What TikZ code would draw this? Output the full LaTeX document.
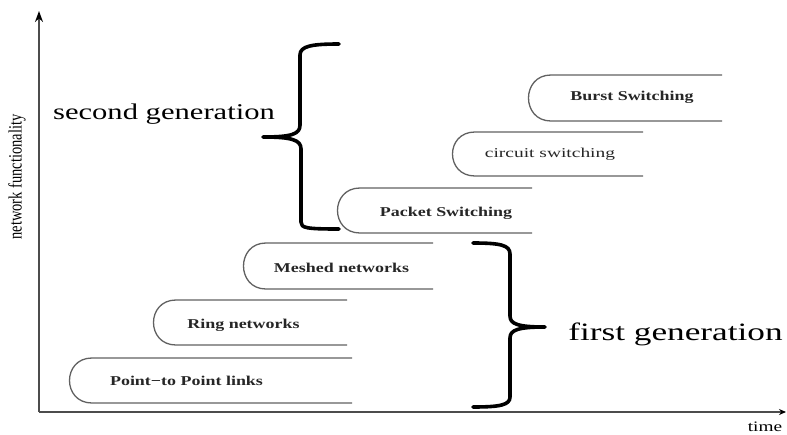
\documentclass[tikz,border=0pt]{standalone}
\usepackage{fontspec}
\setmainfont{Liberation Serif}
\usetikzlibrary{arrows.meta}
\tikzset{
  axis/.style={draw=black!70, line width=1.4pt},
  stage/.style={draw=black!62, line width=1.3pt},
  brace/.style={draw=black, line width=3.6pt, line cap=round, line join=round},
  lbl/.style={font=\fontsize{13.5}{15}\selectfont\bfseries, text=black!85, xscale=1.33, inner sep=0pt},
  gen/.style={text=black, inner sep=0pt, anchor=base}
}
\begin{document}
\begin{tikzpicture}[x=1pt,y=-1pt]
\useasboundingbox (0,0) rectangle (787,434);
% axes
\coordinate (o) at (39,412);
\coordinate (ytop) at (39,11);
\coordinate (xend) at (786,412);
\draw[axis,-{Stealth[length=11pt,width=8pt,color=black]}] (o) -- (ytop);
\draw[axis,-{Stealth[length=7pt,width=6pt,color=black]}] (o) -- (xend);
\node[inner sep=0pt] (ylab) at (17,177) {\rotatebox{90}{\scalebox{1}[1.3]{\fontsize{14.5}{16}\selectfont network functionality}}};
\node[inner sep=0pt, font=\fontsize{14.5}{16}\selectfont, xscale=1.33] (xlab) at (765,427) {time};
% stage shapes
\newcommand{\stageshape}[4]{% left, top, bottom, right
  \draw[stage] (#4,#2) -- ({#1+23},#2) .. controls ({#1-7},#2) and ({#1-7},#3) .. ({#1+23},#3) -- (#4,#3);}
\stageshape{69}{358}{403}{352}
\stageshape{153}{300}{345}{347}
\stageshape{243}{243}{289}{433}
\stageshape{337}{188}{233}{532}
\stageshape{452}{132}{176}{643}
\stageshape{528}{75}{121}{722}
\node[lbl] (p2p) at (186.5,381) {Point−to Point links};
\node[lbl] (ring) at (243.5,325) {Ring networks};
\node[lbl] (mesh) at (341.5,268) {Meshed networks};
\node[lbl] (packet) at (446,213) {Packet Switching};
\node[lbl, font=\fontsize{13.5}{15}\selectfont, xscale=1.44/1.33] (circuit) at (550,154) {circuit switching};
\node[lbl] (burst) at (632,97) {Burst Switching};
% braces
\draw[brace] (339,44) .. controls (312,44) and (300,46) .. (300,55) -- (300,125)
  .. controls (300,134) and (292,137) .. (263,137)
  .. controls (292,137) and (301,140) .. (301,149) -- (301,222)
  .. controls (301,228) and (306,229) .. (339,229);
\draw[brace] (473,243) .. controls (500,243) and (510,245) .. (510,254) -- (510,316)
  .. controls (510,324) and (518,327) .. (545,327)
  .. controls (518,327) and (510,330) .. (510,338) -- (510,397)
  .. controls (510,405) and (500,407) .. (473,407);
\node[gen, font=\fontsize{22.5}{24}\selectfont, xscale=1.36] (second) at (164,119) {second generation};
\node[gen, font=\fontsize{25}{27}\selectfont, xscale=1.41] (first) at (675.5,340) {first generation};
\end{tikzpicture}
\end{document}
